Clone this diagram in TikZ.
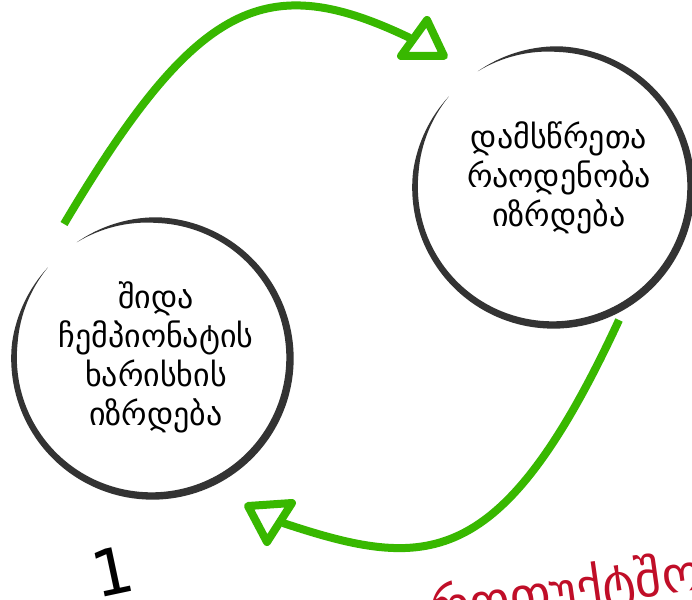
\documentclass[tikz,border=0pt]{standalone}
\usepackage{fontspec}
\setmainfont{DejaVu Sans}
\definecolor{ringgray}{RGB}{51,51,51}
\definecolor{arrowgreen}{RGB}{56,184,0}
\definecolor{wordred}{RGB}{192,14,40}
\pgfmathdeclarefunction{ringw}{1}{\pgfmathparse{(6.5+1.2*cos(#1+45))*min(1,(#1-139)/35,(483-#1)/35)}}
\tikzset{
  circ/.style={circle,minimum size=276bp,inner sep=0pt},
  ctext/.style={align=center,font=\fontsize{32bp}{39bp}\selectfont,text=black},
  flow/.style={draw=arrowgreen,line width=8bp},
  head/.style={draw=arrowgreen,line width=8bp,line join=round},
  tapering/.pic={
    \fill[ringgray] plot[domain=139:483,samples=160,variable=\t]
      ({(138+0.5*ringw(\t))*cos(\t)},{-(138+0.5*ringw(\t))*sin(\t)})
      -- plot[domain=483:139,samples=160,variable=\t]
      ({(138-0.5*ringw(\t))*cos(\t)},{-(138-0.5*ringw(\t))*sin(\t)}) -- cycle;
  }
}
\begin{document}
\begin{tikzpicture}[x=1bp,y=-1bp]
\useasboundingbox[fill=white] (0,0) rectangle (692,600);
\begin{scope}
\clip (0,0) rectangle (692,600);
% circles
\node[circ] (L) at (152,358) {};
\node[circ] (R) at (553,187) {};
\pic at (L.center) {tapering};
\pic at (R.center) {tapering};
\node[ctext] (Lt) at (156,357) {შიდა\\ჩემპიონატის\\ხარისხის\\იზრდება};
\node[ctext] (Rt) at (559,178) {დამსწრეთა\\რაოდენობა\\იზრდება};
% arrow 1
\coordinate (s1) at (64,224);
\coordinate (e1) at (410,38);
\draw[flow] (s1) .. controls (197,0) and (266,-31) .. (e1);
\coordinate (h1a) at (427,20);
\coordinate (h1b) at (401,56);
\coordinate (h1c) at (444,56);
\draw[head] (h1a) -- (h1b) -- (h1c) -- cycle;
% arrow 2
\coordinate (s2) at (619,320);
\coordinate (e2) at (283,523);
\draw[flow] (s2) .. controls (501,575) and (425,570) .. (e2);
\coordinate (h2a) at (248,506);
\coordinate (h2b) at (292,503);
\coordinate (h2c) at (267,542);
\draw[head] (h2a) -- (h2b) -- (h2c) -- cycle;
% labels
\node[font=\fontsize{64bp}{64bp}\selectfont,rotate=12] (n1) at (113,571) {1};
\node[font=\fontsize{51bp}{51bp}\selectfont,text=wordred,rotate=8,anchor=base west,inner sep=0pt] (w) at (432,627) {როთუქტშო};
\end{scope}
\end{tikzpicture}
\end{document}
